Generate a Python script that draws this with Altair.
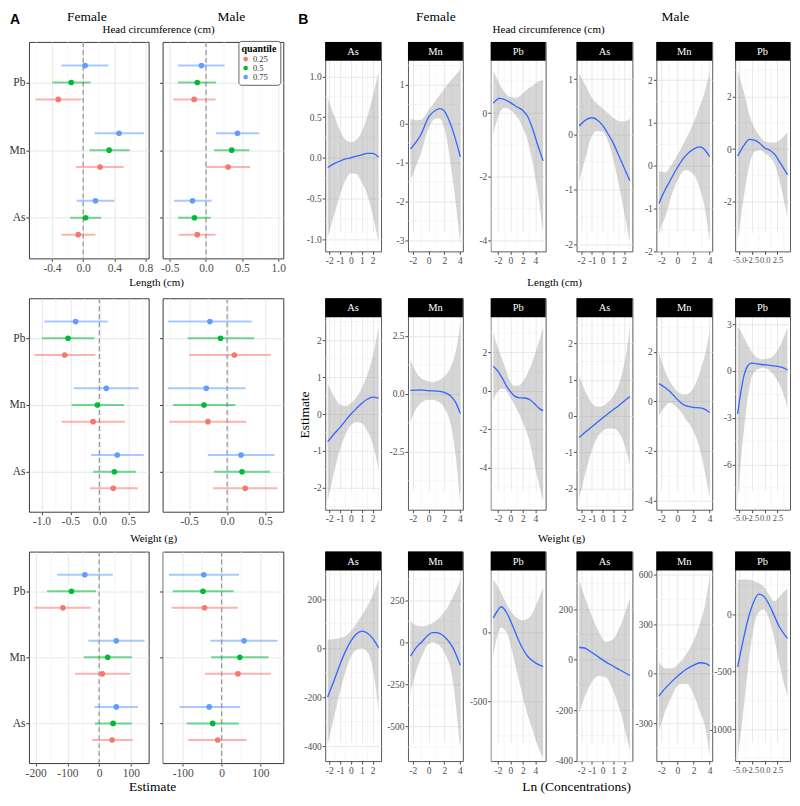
import altair as alt
import pandas as pd

SERIF = "Liberation Serif"
SANS = "Liberation Sans"

# ---------------- shared categories / text ----------------
ELEMENTS = ["As", "Mn", "Pb"]
QUANTILES = ["0.25", "0.5", "0.75"]
Q_COLORS = ["#F8766D", "#00BA38", "#619CFF"]
Q_DODGE = [-0.25, 0.0, 0.25]
OUTCOMES = ["Head circumference (cm)", "Length (cm)", "Weight (g)"]
SEXES = ["Female", "Male"]
A_XTITLE = "Estimate"
B_XTITLE = "Ln (Concentrations)"
B_YTITLE = "Estimate"

# ---------------- Panel A : quantile estimates [As, Mn, Pb] ----------------
A_HC_F = {
    "est": {"0.25": [-0.063, 0.217, -0.32], "0.5": [0.03, 0.333, -0.154], "0.75": [0.158, 0.46, 0.025]},
    "lo": {"0.25": [-0.28, -0.09, -0.61], "0.5": [-0.167, 0.08, -0.396], "0.75": [-0.083, 0.146, -0.28]},
    "hi": {"0.25": [0.158, 0.52, -0.02], "0.5": [0.23, 0.596, 0.096], "0.75": [0.4, 0.78, 0.325]},
}
A_HC_M = {
    "est": {"0.25": [-0.12, 0.307, -0.164], "0.5": [-0.16, 0.356, -0.12], "0.75": [-0.187, 0.436, -0.062]},
    "lo": {"0.25": [-0.378, 0.004, -0.453], "0.5": [-0.387, 0.111, -0.387], "0.75": [-0.444, 0.138, -0.387]},
    "hi": {"0.25": [0.133, 0.613, 0.133], "0.5": [0.067, 0.6, 0.138], "0.75": [0.08, 0.738, 0.258]},
}
A_LEN_F = {
    "est": {"0.25": [0.24, -0.108, -0.597], "0.5": [0.26, -0.034, -0.54], "0.75": [0.31, 0.12, -0.41]},
    "lo": {"0.25": [-0.165, -0.65, -1.12], "0.5": [-0.108, -0.48, -0.99], "0.75": [-0.142, -0.44, -0.95]},
    "hi": {"0.25": [0.665, 0.443, -0.068], "0.5": [0.63, 0.426, -0.085], "0.75": [0.767, 0.68, 0.148]},
}
A_LEN_M = {
    "est": {"0.25": [0.239, -0.252, 0.096], "0.5": [0.196, -0.304, -0.087], "0.75": [0.183, -0.274, -0.226]},
    "lo": {"0.25": [-0.183, -0.76, -0.5], "0.5": [-0.174, -0.71, -0.52], "0.75": [-0.252, -0.78, -0.774]},
    "hi": {"0.25": [0.661, 0.252, 0.574], "0.5": [0.565, 0.109, 0.357], "0.75": [0.622, 0.24, 0.326]},
}
A_WT_F = {
    "est": {"0.25": [41, 10, -114], "0.5": [44, 27, -87], "0.75": [54, 54, -45]},
    "lo": {"0.25": [-23, -76, -204], "0.5": [-13, -48, -164], "0.75": [-15, -34, -132]},
    "hi": {"0.25": [106, 98, -25], "0.5": [103, 103, -9], "0.75": [122, 143, 43]},
}
A_WT_M = {
    "est": {"0.25": [-10, 42, -44], "0.5": [-23, 47, -48], "0.75": [-32, 58, -46]},
    "lo": {"0.25": [-86, -43, -129], "0.5": [-90, -27, -126], "0.75": [-109, -29, -136]},
    "hi": {"0.25": [65, 127, 42], "0.5": [45, 121, 31], "0.75": [47, 144, 45]},
}
A_DATA = [[A_HC_F, A_HC_M], [A_LEN_F, A_LEN_M], [A_WT_F, A_WT_M]]
A_XDOM = [[[-0.696, 0.84], [-0.6, 1.07]], [[-1.216, 0.852], [-0.848, 0.739]], [[-221, 156], [-152, 159]]]
A_XMAJOR = [[[-0.4, 0, 0.4, 0.8], [-0.5, 0, 0.5, 1.0]], [[-1.0, -0.5, 0, 0.5], [-0.5, 0, 0.5]],
            [[-200, -100, 0, 100], [-100, 0, 100]]]
A_XMINOR = [[[-0.6, -0.2, 0.2, 0.6], [-0.25, 0.25, 0.75]], [[-0.75, -0.25, 0.25, 0.75], [-0.75, -0.25, 0.25]],
            [[-150, -50, 50, 150], [-150, -50, 50, 150]]]

# ---------------- Panel B : smooth fits ----------------
# Head circumference
HC_F_AS = dict(x=[-2.15, -1.5, -1, -0.5, 0, 0.5, 1, 1.5, 2, 2.55],
               fit=[-0.12, -0.07, -0.04, -0.015, 0.0, 0.02, 0.035, 0.055, 0.055, 0.01],
               up=[0.73, 0.5, 0.33, 0.22, 0.19, 0.22, 0.32, 0.5, 0.75, 1.05],
               lo=[-0.97, -0.68, -0.45, -0.27, -0.19, -0.2, -0.3, -0.45, -0.7, -1.03])
HC_F_MN = dict(x=[-2.3, -1.5, -1, 0, 1, 1.5, 2, 3, 4.05],
               fit=[-0.65, -0.45, -0.29, 0.17, 0.36, 0.39, 0.33, -0.12, -0.85],
               up=[0.12, 0.09, 0.1, 0.35, 0.62, 0.76, 0.9, 1.15, 1.4],
               lo=[-1.45, -1.05, -0.78, -0.12, 0.14, 0.12, -0.1, -1.3, -3.1])
HC_F_PB = dict(x=[-2.75, -1.75, -1, 0, 1, 2, 2.75, 3.5, 4.25, 5.25],
               fit=[0.31, 0.46, 0.43, 0.33, 0.2, 0.08, -0.1, -0.46, -0.92, -1.5],
               up=[1.33, 0.92, 0.67, 0.51, 0.48, 0.62, 0.75, 0.85, 0.97, 1.03],
               lo=[-0.67, 0.0, 0.17, 0.1, -0.1, -0.46, -0.85, -1.5, -2.3, -3.74])
HC_M_AS = dict(x=[-2.2, -1.5, -1, -0.5, 0, 0.5, 1, 1.5, 2, 2.55],
               fit=[0.15, 0.27, 0.30, 0.26, 0.16, 0.01, -0.16, -0.38, -0.6, -0.84],
               up=[1.1, 0.85, 0.66, 0.55, 0.47, 0.38, 0.3, 0.24, 0.23, 0.28],
               lo=[-0.85, -0.35, -0.02, 0.06, 0.05, -0.12, -0.45, -0.9, -1.4, -1.95])
HC_M_MN = dict(x=[-2.3, -2, -1.5, -1, 0, 1, 2, 2.8, 3.5, 4],
               fit=[-0.88, -0.75, -0.55, -0.38, -0.04, 0.23, 0.39, 0.44, 0.35, 0.21],
               up=[-0.12, -0.14, -0.15, -0.05, 0.25, 0.6, 1.0, 1.4, 1.8, 2.2],
               lo=[-1.6, -1.4, -1.2, -0.85, -0.35, -0.1, -0.2, -0.55, -1.1, -1.8])
HC_M_PB = dict(x=[-5.3, -4, -3, -2, -1, 0, 1, 2, 3, 4.45],
               fit=[-0.27, 0.16, 0.37, 0.34, 0.22, 0.04, -0.05, -0.21, -0.52, -0.97],
               up=[3.0, 2.1, 1.3, 0.8, 0.5, 0.3, 0.25, 0.25, 0.35, 0.65],
               lo=[-3.5, -1.7, -0.6, -0.1, -0.05, -0.15, -0.3, -0.6, -1.3, -2.6])
# Length
LEN_F_AS = dict(x=[-2.15, -1.5, -1, -0.5, 0, 0.5, 1, 1.5, 2, 2.55],
                fit=[-0.75, -0.52, -0.36, -0.18, 0.0, 0.15, 0.29, 0.4, 0.46, 0.43],
                up=[0.82, 0.45, 0.25, 0.22, 0.3, 0.45, 0.7, 1.05, 1.55, 2.35],
                lo=[-2.35, -1.5, -0.95, -0.55, -0.3, -0.22, -0.25, -0.45, -0.8, -1.5])
LEN_F_MN = dict(x=[-2.3, -1.5, -1, 0, 0.5, 1, 2, 3, 3.5, 4.05],
                fit=[0.15, 0.16, 0.17, 0.14, 0.13, 0.12, 0.07, -0.15, -0.4, -0.85],
                up=[1.5, 0.9, 0.7, 0.55, 0.5, 0.55, 0.75, 1.3, 1.9, 3.0],
                lo=[-1.2, -0.6, -0.4, -0.25, -0.25, -0.3, -0.6, -1.6, -2.8, -4.8])
LEN_F_PB = dict(x=[-2.75, -1.96, -1.17, -0.64, -0.12, 0.67, 1.46, 2.25, 3.04, 3.83, 4.62, 5.25],
                fit=[1.28, 1.0, 0.58, 0.25, 0.0, -0.28, -0.37, -0.38, -0.45, -0.67, -0.92, -1.05],
                up=[3.0, 2.2, 1.5, 1.0, 0.55, 0.25, 0.3, 0.6, 1.1, 1.8, 2.6, 3.3],
                lo=[-0.5, 0.0, 0.1, 0.0, -0.28, -0.75, -1.25, -1.85, -2.6, -3.8, -4.9, -5.75])
LEN_M_AS = dict(x=[-2.2, -1.5, -1, -0.5, 0, 0.5, 1, 1.5, 2, 2.55],
                fit=[-0.6, -0.42, -0.3, -0.18, -0.06, 0.06, 0.17, 0.28, 0.4, 0.53],
                up=[1.1, 0.6, 0.35, 0.25, 0.27, 0.38, 0.55, 0.85, 1.4, 2.4],
                lo=[-2.3, -1.45, -0.95, -0.6, -0.42, -0.35, -0.35, -0.45, -0.75, -1.35])
LEN_M_MN = dict(x=[-2.3, -1.5, -1, -0.5, 0, 0.5, 1, 2, 3, 3.5, 4],
                fit=[0.72, 0.55, 0.42, 0.25, 0.08, -0.07, -0.17, -0.24, -0.27, -0.33, -0.45],
                up=[2.0, 1.2, 0.85, 0.6, 0.4, 0.3, 0.28, 0.55, 1.4, 2.0, 2.8],
                lo=[-0.55, -0.2, -0.05, -0.12, -0.25, -0.45, -0.7, -1.2, -2.2, -3.0, -3.9])
LEN_M_PB = dict(x=[-5.3, -4.6, -4.07, -3.54, -3.01, -2.48, -1.42, -0.36, 0.7, 1.75, 2.81, 3.87, 4.45],
                fit=[-2.75, -1.2, -0.3, 0.2, 0.45, 0.5, 0.45, 0.4, 0.38, 0.33, 0.28, 0.17, 0.07],
                up=[2.8, 2.5, 2.15, 1.8, 1.5, 1.2, 0.85, 0.75, 0.8, 1.0, 1.5, 2.3, 2.8],
                lo=[-8.5, -5.5, -3.8, -2.2, -1.1, -0.3, 0.1, 0.2, 0.1, -0.25, -0.8, -1.7, -2.4])
# Weight
WT_F_AS = dict(x=[-2.15, -1.5, -1, -0.5, 0, 0.5, 1, 1.5, 2, 2.55],
               fit=[-199, -125, -65, -12, 30, 58, 70, 62, 40, 2],
               up=[35, 38, 42, 50, 70, 100, 135, 170, 215, 280],
               lo=[-390, -270, -175, -95, -35, -5, 0, -15, -80, -250])
WT_F_MN = dict(x=[-2.3, -1.5, -1, 0, 0.5, 1, 2, 3, 4.05],
               fit=[-82, -27, -4, 45, 58, 58, 35, -23, -136],
               up=[125, 100, 95, 105, 115, 130, 180, 260, 370],
               lo=[-300, -160, -100, -10, 0, -5, -60, -200, -640])
WT_F_PB = dict(x=[-2.75, -2.06, -1.49, -0.64, 0.22, 1.08, 1.94, 2.79, 3.65, 4.51, 5.25],
               fit=[101, 153, 182, 142, 59, -35, -118, -177, -212, -236, -248],
               up=[377, 330, 283, 204, 141, 100, 85, 95, 144, 237, 318],
               lo=[-177, -24, 30, 0, -130, -295, -460, -601, -719, -837, -908])
WT_M_AS = dict(x=[-2.2, -1.7, -1.04, -0.37, 0.29, 0.96, 1.62, 2.55],
               fit=[48, 46, 29, 10, -9, -25, -41, -62],
               up=[314, 251, 175, 111, 71, 80, 130, 244],
               lo=[-210, -150, -90, -65, -70, -120, -200, -360])
WT_M_MN = dict(x=[-2.3, -1.52, -0.65, 0.22, 1.09, 1.96, 2.83, 3.48, 4.0],
               fit=[-135, -89, -45, -6, 27, 50, 66, 62, 48],
               up=[72, 33, 33, 64, 118, 192, 306, 430, 584],
               lo=[-344, -228, -132, -64, -61, -119, -236, -330, -499])
WT_M_PB = dict(x=[-5.3, -4.28, -3.25, -2.23, -1.21, -0.19, 0.84, 1.86, 2.88, 4.45],
               fit=[-457, -238, -42, 98, 174, 154, 84, -14, -112, -210],
               up=[294, 300, 300, 290, 270, 238, 168, 112, 154, 224],
               lo=[-1250, -882, -462, -126, 14, 42, -42, -210, -434, -714])

B_KEYS = [("F", "As"), ("F", "Mn"), ("F", "Pb"), ("M", "As"), ("M", "Mn"), ("M", "Pb")]
B_DATA = [
    [HC_F_AS, HC_F_MN, HC_F_PB, HC_M_AS, HC_M_MN, HC_M_PB],
    [LEN_F_AS, LEN_F_MN, LEN_F_PB, LEN_M_AS, LEN_M_MN, LEN_M_PB],
    [WT_F_AS, WT_F_MN, WT_F_PB, WT_M_AS, WT_M_MN, WT_M_PB],
]
B_XDOM = [[-2.38, 2.78], [-2.62, 4.37], [-3.15, 5.65], [-2.44, 2.79], [-2.62, 4.32], [-5.79, 4.94]]
B_XMAJOR = [[-2, -1, 0, 1, 2], [-2, 0, 2, 4], [-2, 0, 2, 4], [-2, -1, 0, 1, 2], [-2, 0, 2, 4], [-5, -2.5, 0, 2.5]]
B_XMINOR = [[-1.5, -0.5, 0.5, 1.5, 2.5], [-1, 1, 3], [-3, -1, 1, 3, 5], [-1.5, -0.5, 0.5, 1.5, 2.5], [-1, 1, 3],
            [-3.75, -1.25, 1.25, 3.75]]
B_XLABEL_SIZE = [9.5, 9.5, 9.5, 9.5, 9.5, 8.5]
B_YDOM = [
    [[-1.15, 1.19], [-3.29, 1.62], [-4.34, 1.64], [-2.12, 1.33], [-2.0, 2.45], [-3.89, 3.35]],
    [[-2.59, 2.62], [-5.0, 3.31], [-6.2, 3.83], [-2.59, 2.72], [-4.37, 3.4], [-8.9, 3.45]],
    [[-461, 317], [-707, 427], [-932, 443], [-401, 352], [-528, 623], [-1275, 378]],
]
B_YMAJOR = [
    [[-1, -0.5, 0, 0.5, 1], [-3, -2, -1, 0, 1], [-4, -2, 0], [-2, -1, 0, 1], [-2, -1, 0, 1, 2], [-2, 0, 2]],
    [[-2, -1, 0, 1, 2], [-2.5, 0, 2.5], [-4, -2, 0, 2], [-2, -1, 0, 1, 2], [-4, -2, 0, 2], [-6, -3, 0, 3]],
    [[-400, -200, 0, 200], [-500, -250, 0, 250], [-500, 0], [-400, -200, 0, 200], [-300, 0, 300, 600],
     [-1000, -500, 0]],
]
B_YMINOR = [
    [[-0.75, -0.25, 0.25, 0.75], [-2.5, -1.5, -0.5, 0.5, 1.5], [-3, -1, 1], [-1.5, -0.5, 0.5],
     [-1.5, -0.5, 0.5, 1.5], [-3, -1, 1, 3]],
    [[-2.5, -1.5, -0.5, 0.5, 1.5, 2.5], [-3.75, -1.25, 1.25], [-5, -3, -1, 1, 3], [-2.5, -1.5, -0.5, 0.5, 1.5, 2.5],
     [-3, -1, 1, 3], [-7.5, -4.5, -1.5, 1.5]],
    [[-300, -100, 100, 300], [-625, -375, -125, 125, 375], [-750, -250, 250], [-300, -100, 100, 300],
     [-450, -150, 150, 450], [-1250, -750, -250, 250]],
]

# ---------------- layout (pixel sizes of grid cells) ----------------
COLW = [19, 120, 14, 121, 42, 56, 27, 55, 28, 55, 31, 56, 24, 56, 23, 55, 2]
ROWH = [31, 217, 40, 214, 40, 212, 30]
A_COLS = {1: 0, 3: 1}
B_COLS = {5: 0, 7: 1, 9: 2, 11: 3, 13: 4, 15: 5}
PANEL_ROWS = {1: 0, 3: 1, 5: 2}
B_H = [210, 212, 210]
HEADER = 19

GRID = "#E2E2E2"
GRID_MINOR = "#F0F0F0"

SPACER_DF = pd.DataFrame({"s": [""]})
NO_STROKE = alt.ViewBackground(stroke="transparent", strokeWidth=0, fill="transparent")

color_scale = alt.Scale(domain=QUANTILES, range=Q_COLORS)
LEGEND = alt.Legend(title="quantile", orient="none", legendX=229, legendY=30, symbolType="circle",
                    symbolSize=10, symbolOpacity=1, titleFont=SERIF, titleFontSize=10, titleFontWeight="bold",
                    titleColor="black", labelFont=SERIF, labelFontSize=8.5, labelColor="#333",
                    fillColor="white", strokeColor="#666", padding=3, rowPadding=-2, titlePadding=1,
                    labelOffset=3, cornerRadius=3)


def fmt_expr(values):
    fmt = ".1f" if any(float(v) != int(v) for v in values) else ".0f"
    return f"(datum.value < 0 ? '-' : '') + format(abs(datum.value), '{fmt}')"


def axis(values, size, color, labels=True, label_expr=None):
    return alt.Axis(values=values, labelExpr=label_expr or fmt_expr(values), labels=labels, title=None,
                    grid=True, gridColor=GRID, gridWidth=0.8, domain=False, ticks=True, tickColor=color,
                    tickSize=3, labelFont=SERIF, labelFontSize=size, labelColor=color, labelPadding=1,
                    labelFlush=False, labelOverlap=False)


def text_layer(text, x, y, size, align="center", baseline="alphabetic", angle=0, weight="normal", font=SERIF):
    return alt.Chart(pd.DataFrame({"t": [text]})).mark_text(
        align=align, baseline=baseline, angle=angle, fontSize=size, fontWeight=weight, font=font,
        color="black").encode(x=alt.value(x), y=alt.value(y), text="t:N")


def spacer(w, h):
    # invisible placeholder keeping a grid cell of the given size
    return alt.Chart(SPACER_DF).mark_text(opacity=0, fontSize=1).encode(
        x=alt.value(w / 2), y=alt.value(h / 2), text="s:N").properties(width=w, height=h, view=NO_STROKE)


def a_panel(r, s, width, height, extras):
    d = A_DATA[r][s]
    rows = []
    for qi, q in enumerate(QUANTILES):
        for ei, el in enumerate(ELEMENTS):
            rows.append({"element": el, "quantile": q, "est": d["est"][q][ei], "lo": d["lo"][q][ei],
                         "hi": d["hi"][q][ei], "ypos": ei + 1 + Q_DODGE[qi]})
    df = pd.DataFrame(rows)
    xdom = A_XDOM[r][s]
    xs = alt.Scale(domain=xdom, nice=False, zero=False)
    ys = alt.Scale(domain=[0.4, 3.6], nice=False, zero=False)
    xax = axis(A_XMAJOR[r][s], 11.5, "#4D4D4D")
    yexpr = " : ".join(f"datum.value == {i + 1} ? '{e}'" for i, e in enumerate(ELEMENTS[:-1])) + f" : '{ELEMENTS[-1]}'"
    yax = axis([1, 2, 3], 11.5, "#333", labels=(s == 0), label_expr=yexpr)
    minor = [v for v in A_XMINOR[r][s] if xdom[0] < v < xdom[1]]
    l_minor = alt.Chart(pd.DataFrame({"v": minor})).mark_rule(color=GRID_MINOR, strokeWidth=0.6).encode(
        x=alt.X("v:Q", scale=xs, axis=xax))
    l_zero = alt.Chart(pd.DataFrame({"v": [0]})).mark_rule(color="#9A9A9A", strokeDash=[5, 3],
                                                            strokeWidth=1.3).encode(
        x=alt.X("v:Q", scale=xs, axis=xax))
    base = alt.Chart(df)
    col = alt.Color("quantile:N", scale=color_scale, legend=LEGEND)
    l_bar = base.mark_rule(strokeWidth=2, opacity=0.55).encode(
        x=alt.X("lo:Q", scale=xs, axis=xax), x2="hi:Q", y=alt.Y("ypos:Q", scale=ys, axis=yax), color=col)
    l_pt = base.mark_circle(size=32, opacity=1).encode(
        x=alt.X("est:Q", scale=xs, axis=xax), y=alt.Y("ypos:Q", scale=ys, axis=yax), color=col)
    return alt.layer(l_minor, l_zero, l_bar, l_pt, *extras).properties(
        width=width, height=height, view=alt.ViewBackground(stroke="#3A3A3A", strokeWidth=1))


def b_panel(r, k, width, height, extras):
    d = B_DATA[r][k]
    df = pd.DataFrame({"x": d["x"], "fit": d["fit"], "up": d["up"], "lo": d["lo"]})
    xdom = B_XDOM[k]
    ydom = B_YDOM[r][k]
    xs = alt.Scale(domain=xdom, nice=False, zero=False)
    ys = alt.Scale(domain=ydom, nice=False, zero=False, range=[height, HEADER])
    xax = axis(B_XMAJOR[k], B_XLABEL_SIZE[k], "#4D4D4D")
    yax = axis(B_YMAJOR[r][k], 9.5, "#4D4D4D")
    xmin = [v for v in B_XMINOR[k] if xdom[0] < v < xdom[1]]
    ymin = [v for v in B_YMINOR[r][k] if ydom[0] < v < ydom[1]]
    l_xmin = alt.Chart(pd.DataFrame({"v": xmin})).mark_rule(color=GRID_MINOR, strokeWidth=0.6).encode(
        x=alt.X("v:Q", scale=xs, axis=xax))
    l_ymin = alt.Chart(pd.DataFrame({"v": ymin})).mark_rule(color=GRID_MINOR, strokeWidth=0.6).encode(
        y=alt.Y("v:Q", scale=ys, axis=yax))
    l_band = alt.Chart(df).mark_area(color="#999999", opacity=0.4, interpolate="monotone", clip=True).encode(
        x=alt.X("x:Q", scale=xs, axis=xax), y=alt.Y("lo:Q", scale=ys, axis=yax), y2="up:Q")
    l_line = alt.Chart(df).mark_line(color="#3366FF", strokeWidth=1.3, interpolate="monotone", clip=True).encode(
        x=alt.X("x:Q", scale=xs, axis=xax), y=alt.Y("fit:Q", scale=ys, axis=yax))
    hdr = alt.Chart(pd.DataFrame({"t": [B_KEYS[k][1]]}))
    l_hrect = hdr.mark_rect(color="black").encode(
        x=alt.value(0), x2=alt.value(width), y=alt.value(0), y2=alt.value(HEADER))
    l_htext = hdr.mark_text(color="white", font=SERIF, fontSize=10.5, baseline="middle").encode(
        x=alt.value(width / 2), y=alt.value(HEADER / 2 + 0.5), text="t:N")
    return alt.layer(l_xmin, l_ymin, l_band, l_line, l_hrect, l_htext, *extras).properties(
        width=width, height=height, view=alt.ViewBackground(stroke="#5A5A5A", strokeWidth=1))


# texts attached to panels: (row, kind, index) -> layers
ROW_TITLE_Y = [-9, -12, -10]
EXTRAS = {
    (0, "A", 0): [text_layer("A", -19, -18, 14, align="left", weight="bold", font=SANS),
                  text_layer(SEXES[0], 58, -21, 13.5)],
    (0, "A", 1): [text_layer(SEXES[1], 69, -21, 13.5)],
    (0, "B", 0): [text_layer("B", -27, -18, 14, align="left", weight="bold", font=SANS)],
    (0, "B", 1): [text_layer(SEXES[0], 28, -21, 13.5)],
    (0, "B", 4): [text_layer(SEXES[1], 19, -21, 13.5)],
    (1, "B", 0): [text_layer(B_YTITLE, -20, 117, 13.5, baseline="middle", angle=270)],
}
A_TITLE_X = [130, 128, 125]
B_TITLE_X = [58, 64, 71]
for r in range(3):
    EXTRAS.setdefault((r, "A", 0), []).append(text_layer(OUTCOMES[r], A_TITLE_X[r], ROW_TITLE_Y[r], 11))
    EXTRAS.setdefault((r, "B", 2), []).append(text_layer(OUTCOMES[r], B_TITLE_X[r], ROW_TITLE_Y[r], 11))
EXTRAS[(2, "A", 0)].append(text_layer(A_XTITLE, 124, 240, 13.5))
EXTRAS[(2, "B", 2)].append(text_layer(B_XTITLE, 86, 240, 13.5))

cells = []
for ri, h in enumerate(ROWH):
    for ci, w in enumerate(COLW):
        if ri in PANEL_ROWS and ci in A_COLS:
            r, s = PANEL_ROWS[ri], A_COLS[ci]
            cells.append(a_panel(r, s, w, h, EXTRAS.get((r, "A", s), [])))
        elif ri in PANEL_ROWS and ci in B_COLS:
            r, k = PANEL_ROWS[ri], B_COLS[ci]
            cells.append(b_panel(r, k, w, B_H[r], EXTRAS.get((r, "B", k), [])))
        else:
            cells.append(spacer(w, h))

chart = alt.concat(*cells, columns=len(COLW), spacing=0, bounds="flush").properties(
    padding={"left": 0, "top": 0, "right": 0, "bottom": 0}
).configure_view(stroke="transparent", strokeWidth=0).configure(background="white")

chart.save("out.html", embed_options={"renderer": "svg", "actions": False})
